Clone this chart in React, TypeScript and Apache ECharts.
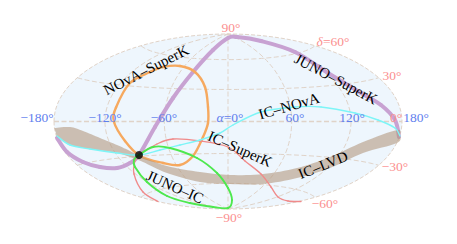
import React, { useEffect, useRef } from "react";
import * as echarts from "echarts";

// Map-plane coordinates of each curve
const junoSuperK = [[-171,-16.5],[-161,-30.5],[-145,-40.5],[-128,-45.5],[-111,-46.5],[-98,-41.5],[-89,-33.5],[-73,-5.5],[-55,23.5],[-35,49.5],[-15,71.5],[0,83.5],[9,84.5],[33,80.5],[67,69.5],[100,48.5],[133,28.5],[153,16.5],[167,1.5],[171,-15.5]];
const novaSuperK = [[-48,55.5],[-65,54.5],[-78,49.5],[-98,38.5],[-112,14],[-114,-0.5],[-103,-19.5],[-88,-34.5],[-65,-41.5],[-48,-43.5],[-35,-34.5],[-25,-15.5],[-20,-1.5],[-20,14.5],[-23,34.5],[-33,49.5],[-48,55.5]];
const icNova = [[-171,-14.5],[-158,-23.5],[-138,-27.5],[-111,-31.5],[-89,-33.5],[-68,-28.5],[-48,-23.5],[-28,-18.5],[-8,-11.5],[5,-3.5],[33,9.5],[67,14.5],[93,14.5],[127,8.5],[150,1.5],[167,-6.5],[172,-14.5]];
const icSuperK = [[-70,-80],[-85,-70.5],[-94,-52.5],[-93,-39.5],[-89,-33.5],[-71,-22.5],[-55,-17.5],[-28,-19.5],[0,-25.5],[17,-39.5],[33,-52.5],[43,-65.5],[50,-75.5],[60,-79.5],[73,-80]];
const junoIc = [[-89,-33.5],[-75,-25.5],[-58,-26.5],[-31,-36.5],[-11,-51.5],[0,-66.5],[4,-78.5],[0,-86.5],[-15,-85.5],[-38,-81.5],[-61,-74.5],[-81,-60.5],[-93,-45.5],[-94,-38.5],[-89,-33.5]];
const bandUpper = [[-173.5,-6.5],[-158,-5.5],[-145,-9.5],[-128,-16.5],[-111,-23.5],[-98,-29.5],[-88,-34.5],[-61,-44.5],[-28,-50.5],[2,-53.5],[35,-52.5],[69,-46.5],[102,-35.5],[135,-20.5],[169,-8.5],[172,-13.5]];
const bandLower = [[172,-13.5],[169,-21.5],[135,-31.5],[102,-46.5],[69,-56.5],[35,-62.5],[2,-62.5],[-28,-60.5],[-61,-51.5],[-85,-40.5],[-98,-35.5],[-111,-31.5],[-138,-27.5],[-158,-23.5],[-171,-15.5]];
const detector = [[-89, -33.5]];

const raLabels = [[-191,4.5,"−180°"],[-123,4.5,"−120°"],[-64,4.5,"−60°"],[2,4.5,"{i|α}=0°"],[67,4.5,"60°"],[124,4.5,"120°"],[188,4.5,"180°"]];
const decLabels = [[168,4.5,"0°"],[3,94.5,"90°"],[105,80.5,"{i|δ}=60°"],[164,46.5,"30°"],[167,-44.5,"−30°"],[97,-81.5,"−60°"],[1,-95.5,"−90°"]];
const curveLabels = [[-82,51.5,"NOvA–SuperK",27],[108,42.5,"JUNO–SuperK",-28],[61,15.5,"IC–NOvA",16],[12,-27.5,"IC–SuperK",-24],[-53,-65.5,"JUNO–IC",-24],[95,-43.5,"IC–LVD",22]];
const parallels = [-60, -30, 0, 30, 60];
const meridians = [-120, -60, 0, 60, 120];

const RX = 174, RY = 87.5;
const GRID_COLOR = "#e0d3c8";
const SERIF = "'Liberation Serif', serif";

function hammer(lon: number, lat: number) {
  const l = (lon * Math.PI) / 180, p = (lat * Math.PI) / 180;
  const d = Math.sqrt(1 + Math.cos(p) * Math.cos(l / 2));
  return [(RX * Math.cos(p) * Math.sin(l / 2)) / d, (RY * Math.sin(p)) / d];
}
function steps(from: number, to: number, n: number) {
  const out: number[] = [];
  for (let i = 0; i <= n; i++) out.push(from + ((to - from) * i) / n);
  return out;
}
const graticule = [
  ...parallels.map((lat) => steps(-180, 180, 72).map((lon) => hammer(lon, lat))),
  ...meridians.map((lon) => steps(-90, 90, 72).map((lat) => hammer(lon, lat))),
];

// Catmull-Rom segments through pixel points, as cubic Bezier controls
function segments(p: number[][]) {
  const closed = p[0][0] === p[p.length - 1][0] && p[0][1] === p[p.length - 1][1];
  const n = p.length;
  const at = (i: number) => {
    if (closed) return p[((i % (n - 1)) + (n - 1)) % (n - 1)];
    return p[Math.max(0, Math.min(n - 1, i))];
  };
  const out: number[][] = [];
  for (let i = 0; i < n - 1; i++) {
    const a = at(i - 1), b = at(i), c = at(i + 1), d = at(i + 2);
    out.push([b[0], b[1], b[0] + (c[0] - a[0]) / 6, b[1] + (c[1] - a[1]) / 6, c[0] - (d[0] - b[0]) / 6, c[1] - (d[1] - b[1]) / 6, c[0], c[1]]);
  }
  return out;
}
function sampleEdge(p: number[][]) {
  const pts: number[][] = [];
  segments(p).forEach((s) => {
    for (let k = 0; k < 8; k++) {
      const t = k / 8, u = 1 - t;
      pts.push([
        u * u * u * s[0] + 3 * u * u * t * s[2] + 3 * u * t * t * s[4] + t * t * t * s[6],
        u * u * u * s[1] + 3 * u * u * t * s[3] + 3 * u * t * t * s[5] + t * t * t * s[7],
      ]);
    }
  });
  return pts;
}

function curve(data: number[][], color: string, width: number, z: number) {
  return {
    type: "custom", silent: true, clip: false, z, data: [[0, 0]],
    renderItem: (_: any, api: any) => ({
      type: "group",
      children: segments(data.map((d) => api.coord(d))).map((s) => ({
        type: "bezierCurve",
        shape: { x1: s[0], y1: s[1], cpx1: s[2], cpy1: s[3], cpx2: s[4], cpy2: s[5], x2: s[6], y2: s[7] },
        style: { stroke: color, lineWidth: width, fill: null, lineCap: "round" },
      })),
    }),
  };
}
function texts(data: any[], color: string, size: number) {
  return {
    type: "custom", silent: true, clip: false, z: 8, data: data.map((d) => [d[0], d[1]]),
    renderItem: (params: any, api: any) => {
      const d = data[params.dataIndex];
      const c = api.coord([d[0], d[1]]);
      return {
        type: "text", x: c[0], y: c[1], rotation: ((d[3] || 0) * Math.PI) / 180,
        style: {
          text: d[2], fill: color, fontSize: size, fontFamily: SERIF, align: "center", verticalAlign: "middle",
          rich: { i: { fontStyle: "italic", fill: color, fontSize: size, fontFamily: SERIF } },
        },
      };
    },
  };
}

export default function App() {
  const ref = useRef<HTMLDivElement>(null);
  useEffect(() => {
    const chart = echarts.init(ref.current!, undefined, { renderer: "svg" });
    chart.setOption({
      animation: false,
      backgroundColor: "#ffffff",
      grid: { left: 0, top: 0, right: 0, bottom: 0 },
      xAxis: { type: "value", min: -228, max: 229, show: false },
      yAxis: { type: "value", min: -122.5, max: 121.5, show: false },
      series: [
        {
          type: "custom", silent: true, clip: false, z: 1, data: [[0, 0]],
          renderItem: (_: any, api: any) => {
            const c = api.coord([0, 0]);
            const s = api.size([RX, RY]);
            return { type: "ellipse", shape: { cx: c[0], cy: c[1], rx: s[0], ry: s[1] }, style: { fill: "#eef6fd", stroke: GRID_COLOR, lineWidth: 1, lineDash: [4, 2] } };
          },
        },
        ...graticule.map((data, i) => ({
          type: "line", data, showSymbol: false, symbol: "none", silent: true, clip: false, z: 2,
          lineStyle: { color: GRID_COLOR, width: i === 2 ? 1.4 : 1, type: [5, 2.5] },
        })),
        curve(junoSuperK, "#c8a2d2", 4, 4),
        curve(novaSuperK, "#f6a95f", 2.4, 4),
        {
          type: "custom", silent: true, clip: false, z: 5, data: [[0, 0]],
          renderItem: (_: any, api: any) => ({
            type: "polygon",
            shape: { points: [...sampleEdge(bandUpper.map((p) => api.coord(p))), ...sampleEdge(bandLower.map((p) => api.coord(p))), api.coord(bandLower[bandLower.length - 1])] },
            style: { fill: "rgba(178,150,124,0.58)" },
          }),
        },
        curve(icSuperK, "#f08a8a", 1.3, 6),
        curve(icNova, "#7df5f7", 1.4, 6),
        curve(junoIc, "#4ee84e", 1.9, 6),
        { type: "scatter", data: detector, symbol: "circle", symbolSize: 8, itemStyle: { color: "#000" }, silent: true, z: 7 },
        texts(raLabels, "#5f80ee", 13.5),
        texts(decLabels, "#fb8f8f", 13.5),
        texts(curveLabels, "#000000", 15),
      ],
    });
    return () => chart.dispose();
  }, []);
  return <div ref={ref} style={{ position: "fixed", left: 0, top: 0, width: 457, height: 244 }} />;
}
